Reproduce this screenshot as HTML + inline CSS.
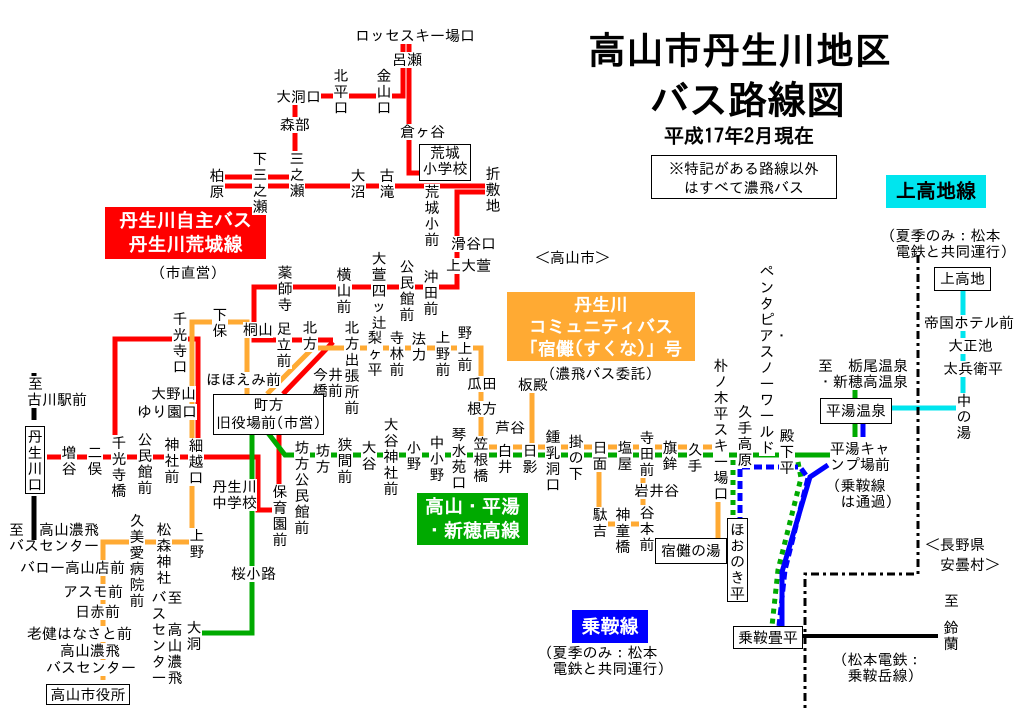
<!DOCTYPE html>
<html><head><meta charset="utf-8"><style>
body{margin:0;background:#fff}
#w{position:relative;width:1024px;height:723px;overflow:hidden;background:#fff;font-family:"IPAGothic","Noto Sans CJK JP",sans-serif;color:#000}
svg{position:absolute;left:0;top:0}
.t,.v{position:absolute;font-size:15px;line-height:16px;background:#fff;white-space:nowrap}
.v{width:16px;white-space:normal;word-break:break-all;text-align:center}
.b{position:absolute;border:1px solid #000;background:#fff;font-size:15px;line-height:17px;text-align:center}
.box{position:absolute;color:#fff;font-weight:bold;text-align:center}
</style></head><body><div id="w">
<svg width="1024" height="723">
<g fill="none" stroke-width="5">
<g stroke="#ff0000">
<path d="M403,42 L403,96 L313,96"/><path d="M409,42 L409,173 L420,173"/>
<path d="M295,103 L295,186"/>
<path d="M225,177 L297,177"/><path d="M225,186 L487,186"/>
<path d="M487,192 L457,192 L457,287 L254,287 L254,340 L333,340"/>
<path d="M333,342 L283,394"/>
<path d="M47,457 L258,457 L258,510 L275,510"/>
<path d="M115,457 L115,339 L198,339 L198,457"/>
<path d="M279,433 L279,510"/>
</g>
<g stroke="#ffaa33">
<path d="M192,540 L192,322 L247,322 L247,395"/>
<path d="M103,680 L103,542 L192,542"/>
<path d="M267,394 L313,348 L481,348 L481,447 L712,447"/>
<path d="M532,392 L532,447"/>
<path d="M599,447 L599,507"/><path d="M600,524 L645,524"/><path d="M643,447 L643,520"/>
<path d="M718,502 L718,540"/>
</g>
<g stroke="#00aa00">
<path d="M268,433 L285,455 L830,455"/>
<path d="M252,433 L252,633 L198,633"/>
<path d="M855,388 L855,398"/><path d="M855,422 L855,437"/>
<path d="M733,460 L733,520" stroke-dasharray="5 5"/>
<path d="M798,462 L801,478 L778,570 L772,626" stroke-dasharray="5 5"/>
</g>
<g stroke="#0000ff">
<path d="M740,525 L740,467 L800,467 L808,478 L785,570 L779,626" stroke-dasharray="8 4"/>
<path d="M828,465 L810,477 L782,572 L782,626"/>
<path d="M863,422 L863,437"/>
</g>
<g stroke="#00e5ee"><path d="M963,290 L963,404"/><path d="M890,408 L958,408"/></g>
<path d="M34,373 L34,420 M34,496 L34,540" stroke="#000"/>
<path d="M801,636 L938,636" stroke="#000" stroke-width="4"/>
<path d="M918,255 L918,574 L805,574 L805,712" stroke="#000" stroke-width="3" stroke-dasharray="8 4 3 4"/>
</g>
</svg>

<div style="position:absolute;left:588px;top:28px;font-size:38px;font-weight:bold;line-height:44px">高山市丹生川地区</div>
<div style="position:absolute;left:650px;top:78px;font-size:39px;font-weight:bold;line-height:44px">バス路線図</div>
<div style="position:absolute;left:664px;top:124px;font-size:20px;font-weight:bold;line-height:24px">平成17年2月現在</div>
<div class="b" style="left:651px;top:155px;width:186px;height:44px;line-height:19px;padding-top:3px;box-sizing:border-box">※特記がある路線以外<br>はすべて濃飛バス</div>
<div class="box" style="left:886px;top:175px;width:100px;height:33px;background:#00e5ee;color:#000;font-size:20px;line-height:33px">上高地線</div>
<div class="box" style="left:105px;top:207px;width:161px;height:52px;background:#ff0000;font-size:19px;line-height:24px;padding-top:2px;box-sizing:border-box">丹生川自主バス<br>丹生川荒城線</div>
<div class="t" style="left:158px;top:265px">(市直営)</div>
<div class="box" style="left:507px;top:292px;width:188px;height:69px;background:#ffaa33;font-size:18px;line-height:22px;padding-top:2px;box-sizing:border-box">丹生川<br>コミュニティバス<br>「宿儺(すくな)」号</div>
<div class="t" style="left:548px;top:366px">(濃飛バス委託)</div>
<div class="box" style="left:417px;top:493px;width:111px;height:52px;background:#00aa00;font-size:19px;line-height:24px;padding-top:2px;box-sizing:border-box">高山・平湯<br>・新穂高線</div>
<div class="box" style="left:572px;top:610px;width:76px;height:33px;background:#0000ff;font-size:19px;line-height:33px">乗鞍線</div>
<div class="t" style="left:535px;top:250px">＜高山市＞</div>
<div class="t" style="left:925px;top:535px;line-height:20px;background:none">＜長野県<br>&nbsp;&nbsp;安曇村＞</div>

<div class="t" style="left:355px;top:28px">ロッセスキー場口</div>
<div class="t" style="left:392px;top:52px">呂瀬</div>
<div class="v" style="left:333px;top:68px">北平口</div>
<div class="v" style="left:376px;top:68px">金山口</div>
<div class="t" style="left:276px;top:89px">大洞口</div>
<div class="t" style="left:280px;top:117px">森部</div>
<div class="t" style="left:400px;top:124px">倉ヶ谷</div>
<div class="b" style="left:419px;top:144px;width:50px;height:35px;line-height:16px">荒城<br>小学校</div>
<div class="v" style="left:252px;top:151px">下三之瀬</div>
<div class="v" style="left:289px;top:151px">三之瀬</div>
<div class="v" style="left:209px;top:168px">柏原</div>
<div class="v" style="left:350px;top:168px">大沼</div>
<div class="v" style="left:379px;top:168px">古滝</div>
<div class="v" style="left:424px;top:184px">荒城小前</div>
<div class="v" style="left:485px;top:166px">折敷地</div>
<div class="t" style="left:451px;top:236px">滑谷口</div>
<div class="t" style="left:446px;top:258px">上大萱</div>
<div class="v" style="left:277px;top:265px">薬師寺</div>
<div class="v" style="left:336px;top:267px">横山前</div>
<div class="v" style="left:371px;top:251px">大萱四ッ辻</div>
<div class="v" style="left:399px;top:259px">公民館前</div>
<div class="v" style="left:423px;top:269px">沖田前</div>

<div class="v" style="left:172px;top:311px">千光寺口</div>
<div class="v" style="left:212px;top:307px">下保</div>
<div class="t" style="left:243px;top:322px">桐山</div>
<div class="v" style="left:276px;top:321px">足立前</div>
<div class="v" style="left:302px;top:320px">北方</div>
<div class="v" style="left:344px;top:320px">北方出張所前</div>
<div class="v" style="left:367px;top:330px">梨ヶ平</div>
<div class="v" style="left:389px;top:330px">寺林前</div>
<div class="v" style="left:411px;top:331px">法力</div>
<div class="v" style="left:435px;top:330px">上野前</div>
<div class="v" style="left:457px;top:325px">野上前</div>
<div class="t" style="left:467px;top:376px">瓜田</div>
<div class="t" style="left:467px;top:401px">根方</div>
<div class="t" style="left:518px;top:377px">板殿</div>
<div class="t" style="left:495px;top:420px">芦谷</div>
<div class="t" style="left:206px;top:372px">ほほえみ前</div>
<div class="t" style="left:313px;top:367px">今井<br>橋前</div>
<div class="t" style="left:151px;top:386px">大野山</div>
<div class="t" style="left:137px;top:404px">ゆり園口</div>
<div class="b" style="left:213px;top:394px;width:109px;height:38px;line-height:18px;padding-top:1px">町方<br>旧役場前(市営)</div>
<div class="t" style="left:28px;top:376px">至</div>
<div class="t" style="left:27px;top:392px">古川駅前</div>
<div class="b" style="left:25px;top:426px;width:20px;height:68px;line-height:16px;padding-top:2px;box-sizing:border-box">丹生川口</div>
<div class="v" style="left:61px;top:445px">増谷</div>
<div class="v" style="left:87px;top:445px">二俣</div>
<div class="v" style="left:111px;top:435px">千光寺橋</div>
<div class="v" style="left:137px;top:432px">公民館前</div>
<div class="v" style="left:164px;top:437px">神社前</div>
<div class="v" style="left:188px;top:438px">細越口</div>
<div class="t" style="left:212px;top:479px">丹生川<br>中学校</div>
<div class="v" style="left:272px;top:484px">保育園前</div>
<div class="v" style="left:294px;top:440px">坊方公民館前</div>
<div class="v" style="left:315px;top:443px">坊方</div>
<div class="v" style="left:337px;top:437px">狭間前</div>
<div class="v" style="left:361px;top:440px">大谷</div>
<div class="v" style="left:383px;top:417px">大谷神社前</div>
<div class="v" style="left:406px;top:440px">小野</div>
<div class="v" style="left:429px;top:435px">中小野</div>
<div class="v" style="left:451px;top:427px">琴水苑口</div>
<div class="v" style="left:473px;top:436px">笠根橋</div>
<div class="v" style="left:497px;top:443px">白井</div>
<div class="v" style="left:522px;top:443px">日影</div>
<div class="v" style="left:545px;top:429px">鍾乳洞口</div>
<div class="v" style="left:568px;top:434px">掛の下</div>
<div class="v" style="left:592px;top:440px">日面</div>
<div class="v" style="left:617px;top:440px">塩屋</div>
<div class="v" style="left:639px;top:430px">寺田前</div>
<div class="v" style="left:662px;top:440px">旗鉾</div>
<div class="v" style="left:687px;top:442px">久手</div>
<div class="v" style="left:713px;top:358px">朴ノ木平スキー場口</div>
<div class="v" style="left:737px;top:404px">久手高原</div>
<div class="v" style="left:759px;top:264px">ペンタピア・スノーワールド</div>
<div class="v" style="left:779px;top:428px">殿下平</div>
<div class="t" style="left:634px;top:483px">岩井谷</div>
<div class="v" style="left:592px;top:507px">駄吉</div>
<div class="v" style="left:615px;top:507px">神童橋</div>
<div class="v" style="left:639px;top:505px">谷本前</div>
<div class="b" style="left:655px;top:538px;width:70px;height:24px;line-height:24px">宿儺の湯</div>
<div class="b" style="left:727px;top:518px;width:21px;height:84px;line-height:16px;padding-top:3px;box-sizing:border-box">ほおのき平</div>
<div class="t" style="left:830px;top:441px;background:none">平湯キャ<br>ンプ場前</div>
<div class="t" style="left:833px;top:478px;background:none">(乗鞍線<br>&nbsp;は通過)</div>
<div class="t" style="left:818px;top:358px">至　栃尾温泉<br>・新穂高温泉</div>
<div class="b" style="left:820px;top:398px;width:70px;height:24px;line-height:24px">平湯温泉</div>
<div class="b" style="left:934px;top:267px;width:55px;height:22px;line-height:22px">上高地</div>
<div class="t" style="left:888px;top:228px;background:none">(夏季のみ：松本<br>&nbsp;電鉄と共同運行)</div>
<div class="t" style="left:924px;top:315px">帝国ホテル前</div>
<div class="t" style="left:948px;top:338px">大正池</div>
<div class="t" style="left:943px;top:361px">太兵衛平</div>
<div class="v" style="left:956px;top:393px">中の湯</div>
<div class="b" style="left:733px;top:626px;width:68px;height:21px;line-height:21px">乗鞍畳平</div>
<div class="t" style="left:840px;top:652px">(松本電鉄：<br>&nbsp;乗鞍岳線)</div>
<div class="t" style="left:944px;top:593px">至</div>
<div class="v" style="left:943px;top:620px">鈴蘭</div>
<div class="t" style="left:545px;top:645px">(夏季のみ：松本<br>&nbsp;電鉄と共同運行)</div>

<div class="t" style="left:9px;top:522px;background:none">至　高山濃飛<br>バスセンター</div>
<div class="t" style="left:20px;top:560px">バロー高山店前</div>
<div class="t" style="left:63px;top:584px">アスモ前</div>
<div class="t" style="left:75px;top:604px">日赤前</div>
<div class="t" style="left:27px;top:626px">老健はなさと前</div>
<div class="t" style="left:60px;top:643px">高山濃飛</div>
<div class="t" style="left:46px;top:660px">バスセンター</div>
<div class="b" style="left:46px;top:684px;width:82px;height:19px;line-height:19px">高山市役所</div>
<div class="v" style="left:129px;top:513px">久美愛病院前</div>
<div class="v" style="left:156px;top:522px">松森神社</div>
<div class="v" style="left:189px;top:528px">上野</div>
<div class="v" style="left:151px;top:590px">バスセンター</div>
<div class="v" style="left:167px;top:590px">至</div>
<div class="v" style="left:167px;top:622px">高山濃飛</div>
<div class="v" style="left:186px;top:620px">大洞</div>
<div class="t" style="left:231px;top:566px">桜小路</div>
</div></body></html>
